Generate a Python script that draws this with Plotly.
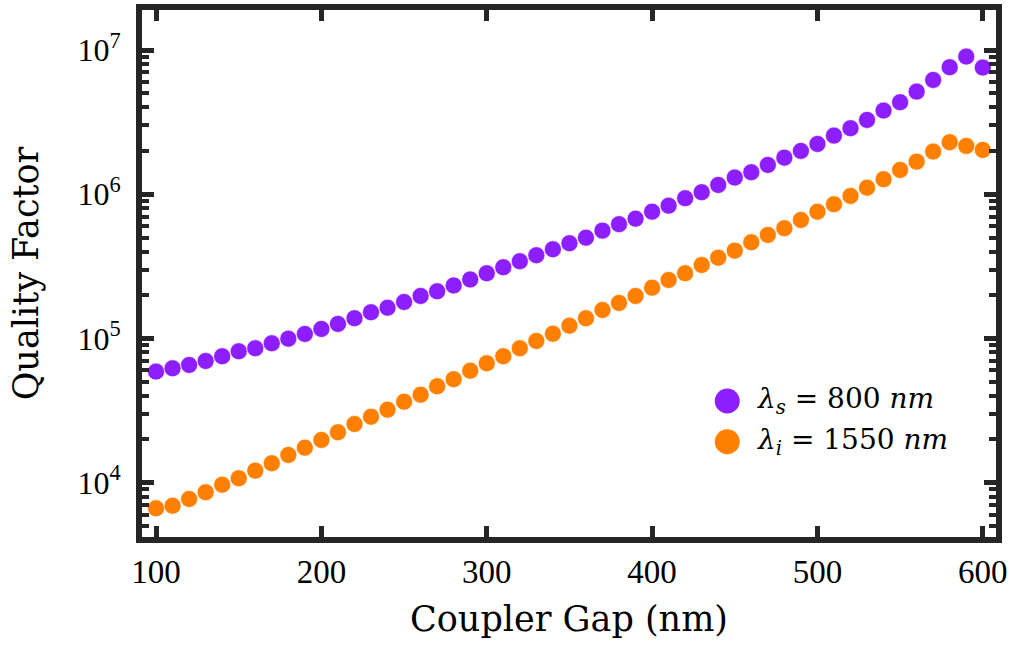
import plotly.graph_objects as go

# ---- data ----
coupler_gap = list(range(100, 601, 10))

q_signal_800 = [
    58900, 62100, 65500, 69800, 75200, 81500, 85500, 92600, 99700, 107500,
    116400, 126100, 138100, 151900, 163500, 179100, 197100, 212500, 233100, 256600,
    283200, 311700, 343100, 377600, 415600, 457400, 500000, 559300, 620300, 677300,
    757300, 833500, 938300, 1032500, 1160000, 1304000, 1421000, 1597000, 1794000, 1997000,
    2233000, 2549000, 2869000, 3276000, 3800000, 4345000, 5146000, 6202000, 7599000, 9000000,
    7551000,
]

q_idler_1550 = [
    6644, 6925, 7709, 8579, 9685, 10730, 12110, 13630, 15560, 17490,
    19780, 22360, 25530, 28690, 32080, 36450, 40760, 46620, 52220, 59800,
    67300, 75240, 85500, 96100, 107800, 122700, 138100, 157600, 176300, 197100,
    225000, 254500, 283200, 323300, 363300, 406400, 464700, 522200, 581000, 663400,
    757300, 852500, 973200, 1111000, 1271000, 1474000, 1683000, 1975000, 2294000, 2163000,
    2029000,
]

legend_labels = [
    "<i>λ</i><sub><i>s</i></sub> = 800 <i>nm</i>",
    "<i>λ</i><sub><i>i</i></sub> = 1550 <i>nm</i>",
]
x_ticks = [100, 200, 300, 400, 500, 600]
y_ticks = [1e4, 1e5, 1e6, 1e7]
y_ticktext = ["10<sup>4</sup>", "10<sup>5</sup>", "10<sup>6</sup>", "10<sup>7</sup>"]

PURPLE = "rgb(140,30,255)"
ORANGE = "rgb(255,128,0)"
colors = [PURPLE, ORANGE]
SPINE = "#262626"

fig = go.Figure()
for ys, c in zip([q_signal_800, q_idler_1550], colors):
    fig.add_trace(go.Scatter(
        x=coupler_gap, y=ys, mode="markers",
        marker=dict(color=c, size=17, line=dict(color="white", width=0.6)),
        showlegend=False, hoverinfo="x+y",
    ))

# custom legend drawn on a hidden overlay axis (0..1)
leg_x = [0.6853, 0.6853]
leg_y = [0.2581, 0.1808]
fig.add_trace(go.Scatter(
    x=leg_x, y=leg_y, mode="markers", xaxis="x2", yaxis="y2",
    marker=dict(color=colors, size=25), showlegend=False, hoverinfo="skip",
))
for lab, yy in zip(legend_labels, leg_y):
    fig.add_annotation(
        x=0.7178, y=yy, xref="x2", yref="y2", text=lab, showarrow=False,
        xanchor="left", yanchor="middle",
        font=dict(family="DejaVu Serif", size=28, color="black"),
    )

axis_common = dict(
    showline=True, linewidth=6, linecolor=SPINE, mirror="ticks",
    ticks="inside", tickcolor=SPINE, showgrid=False, zeroline=False,
)

fig.update_layout(
    width=1011, height=647,
    margin=dict(l=142, r=15, t=10, b=110),
    paper_bgcolor="white", plot_bgcolor="white",
    xaxis=dict(
        **axis_common,
        range=[91.5, 608], tickvals=x_ticks, ticklen=11, tickwidth=5,
        tickfont=dict(family="Liberation Serif", size=33, color="black"),
        ticklabelstandoff=0,
        title=dict(text="Coupler Gap (nm)", standoff=20,
                   font=dict(family="DejaVu Serif", size=35, color="black")),
        automargin=False,
    ),
    yaxis=dict(
        **axis_common,
        type="log", range=[3.6234, 7.2774], tickvals=y_ticks, ticktext=y_ticktext,
        ticklen=12, tickwidth=5,
        minor=dict(ticks="inside", ticklen=7, tickwidth=4, tickcolor=SPINE, dtick="D1", showgrid=False),
        tickfont=dict(family="Liberation Serif", size=32, color="black"),
        ticklabelstandoff=9,
        title=dict(text="Quality Factor", standoff=30,
                   font=dict(family="DejaVu Serif", size=35, color="black")),
        automargin=False,
    ),
    xaxis2=dict(overlaying="x", range=[0, 1], visible=False, fixedrange=True),
    yaxis2=dict(overlaying="y", range=[0, 1], visible=False, fixedrange=True),
)

fig.write_html("out.html")
